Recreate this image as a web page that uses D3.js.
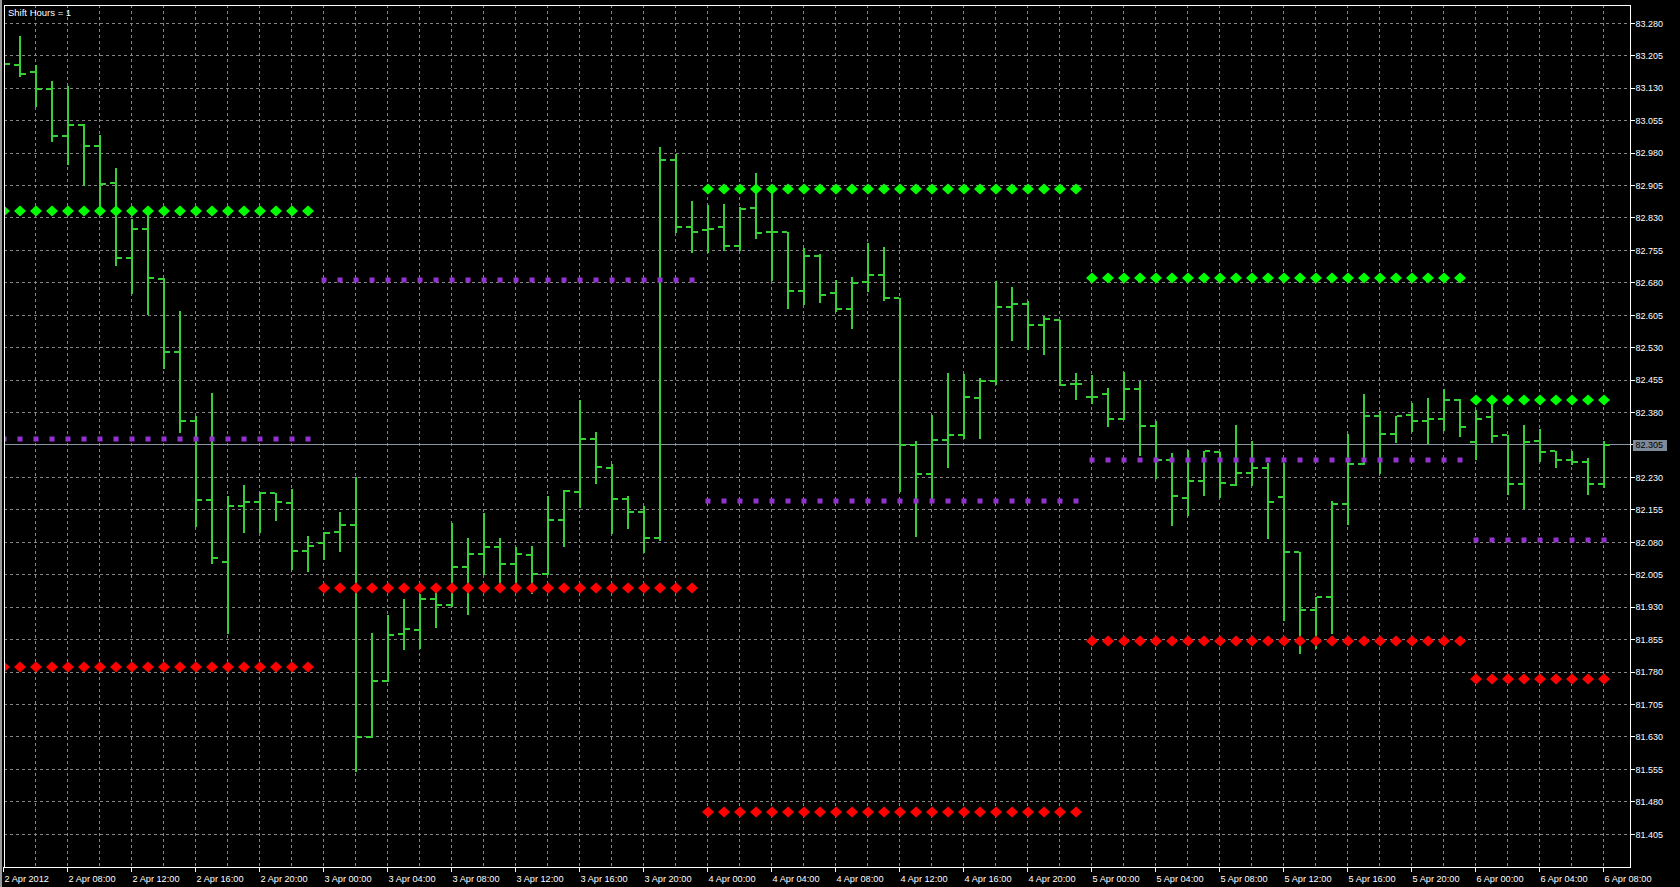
<!DOCTYPE html>
<html><head><meta charset="utf-8">
<script src="https://cdn.jsdelivr.net/npm/d3@7"></script>
<style>
html,body{margin:0;padding:0;background:#000;overflow:hidden}
svg{display:block}
text{font-family:"Liberation Sans",Arial,sans-serif;}
</style></head><body>
<svg id="chart" width="1680" height="887"></svg>
<script>
// ---------- DATA ----------
const barOpen = [83.190,83.183,83.167,83.129,83.020,83.044,82.996,82.911,82.738,82.805,
82.689,82.520,82.361,82.178,82.035,82.163,82.172,82.195,82.170,82.061,
82.078,82.103,82.120,81.629,81.759,81.867,81.878,81.950,81.934,82.022,
82.052,82.070,82.029,82.050,82.007,82.132,82.197,82.319,82.251,82.179,
82.149,82.091,82.965,82.809,82.801,82.809,82.766,82.852,82.797,82.798,
82.660,82.743,82.657,82.619,82.681,82.698,82.644,82.304,82.239,82.316,
82.329,82.413,82.452,82.625,82.632,82.582,82.595,82.446,82.415,82.423,
82.365,82.435,82.350,82.270,82.182,82.221,82.289,82.213,82.240,82.252,
82.184,82.057,81.924,81.953,82.169,82.261,82.371,82.331,82.374,82.360,
82.365,82.410,82.313,82.370,82.327,82.215,82.315,82.290,82.270,82.265,
82.215];
const barHigh = [83.200,83.251,83.183,83.146,83.136,83.048,83.021,82.945,82.828,82.841,
82.690,82.615,82.371,82.425,82.188,82.212,82.197,82.195,82.204,82.095,
82.103,82.149,82.232,81.871,81.911,81.948,81.960,81.968,82.125,82.090,
82.147,82.090,82.069,82.071,82.188,82.200,82.410,82.335,82.261,82.188,
82.164,82.995,82.977,82.869,82.859,82.862,82.855,82.934,82.894,82.798,
82.760,82.747,82.687,82.693,82.771,82.763,82.644,82.314,82.375,82.471,
82.468,82.459,82.683,82.671,82.638,82.604,82.595,82.471,82.466,82.437,
82.474,82.454,82.360,82.286,82.293,82.291,82.289,82.352,82.315,82.263,
82.263,82.057,81.953,82.175,82.331,82.424,82.383,82.371,82.401,82.414,
82.435,82.411,82.387,82.398,82.327,82.352,82.342,82.290,82.290,82.275,
82.315];
const barLow = [83.170,83.158,83.089,83.008,82.954,82.905,82.856,82.722,82.657,82.607,
82.482,82.336,82.117,82.032,81.871,82.103,82.103,82.132,82.019,82.013,
82.042,82.061,81.551,81.629,81.759,81.833,81.836,81.883,81.932,81.914,
82.007,81.984,81.984,81.963,82.007,82.071,82.162,82.216,82.102,82.113,
82.058,82.085,82.797,82.752,82.752,82.755,82.755,82.783,82.687,82.621,
82.632,82.636,82.615,82.575,82.662,82.641,82.198,82.095,82.177,82.254,
82.322,82.322,82.446,82.547,82.526,82.515,82.444,82.411,82.403,82.349,
82.365,82.281,82.229,82.119,82.143,82.190,82.185,82.213,82.212,82.090,
81.900,81.824,81.836,81.870,82.123,82.260,82.240,82.313,82.338,82.310,
82.340,82.325,82.273,82.311,82.192,82.159,82.269,82.254,82.260,82.192,
82.208];
const barClose = [83.186,83.163,83.129,83.020,83.044,82.996,82.908,82.738,82.805,82.691,
82.520,82.361,82.178,82.043,82.163,82.172,82.195,82.172,82.061,82.072,
82.101,82.120,81.629,81.759,81.865,81.879,81.950,81.934,82.022,82.054,
82.070,82.029,82.052,82.007,82.132,82.199,82.319,82.253,82.179,82.149,
82.091,82.965,82.809,82.798,82.805,82.766,82.850,82.796,82.798,82.660,
82.743,82.652,82.619,82.679,82.698,82.644,82.306,82.239,82.316,82.329,
82.415,82.452,82.625,82.632,82.582,82.597,82.444,82.446,82.417,82.365,
82.435,82.350,82.270,82.186,82.221,82.291,82.216,82.240,82.252,82.172,
82.057,81.924,81.953,82.169,82.261,82.371,82.331,82.371,82.360,82.365,
82.410,82.346,82.365,82.325,82.215,82.313,82.288,82.270,82.265,82.215,
82.305];

const xTickIndex = [0,4,8,12,16,20,24,28,32,36,40,44,48,52,56,60,64,68,72,76,80,84,88,92,96,100];
const xTickLabels = ["2 Apr 2012","2 Apr 08:00","2 Apr 12:00","2 Apr 16:00","2 Apr 20:00",
"3 Apr 00:00","3 Apr 04:00","3 Apr 08:00","3 Apr 12:00","3 Apr 16:00","3 Apr 20:00",
"4 Apr 00:00","4 Apr 04:00","4 Apr 08:00","4 Apr 12:00","4 Apr 16:00","4 Apr 20:00",
"5 Apr 00:00","5 Apr 04:00","5 Apr 08:00","5 Apr 12:00","5 Apr 16:00","5 Apr 20:00",
"6 Apr 00:00","6 Apr 04:00","6 Apr 08:00"];
const yTickValues = [83.280,83.205,83.130,83.055,82.980,82.905,82.830,82.755,82.680,82.605,
82.530,82.455,82.380,82.305,82.230,82.155,82.080,82.005,81.930,81.855,81.780,81.705,
81.630,81.555,81.480,81.405];
const yTickLabels = ["83.280","83.205","83.130","83.055","82.980","82.905","82.830","82.755",
"82.680","82.605","82.530","82.455","82.380","82.305","82.230","82.155","82.080","82.005",
"81.930","81.855","81.780","81.705","81.630","81.555","81.480","81.405"];

const daySegStart = [0,20,44,68,92];
const daySegEnd   = [19,43,67,91,100];
const dayHighLevel  = [82.847,null,82.898,82.691,82.410];
const dayPivotLevel = [82.319,82.686,82.175,82.270,82.086];
const dayLowLevel   = [81.792,81.975,81.457,81.852,81.763];

const currentPrice = 82.305;
const currentPriceLabel = "82.305";
const titleText = "Shift Hours = 1";

// ---------- LAYOUT ----------
const plot = {left:4, top:5, right:1630.5, bottom:867};
const x = d3.scaleLinear().domain([0,100]).range([4,1604]);
const y = d3.scaleLinear().domain([81.3292,83.3223]).range([867,5]);
const px = v => Math.floor(v) + 0.5;

const svg = d3.select("#chart");
svg.append("rect").attr("width",1680).attr("height",887).attr("fill","#000");
svg.append("rect").attr("x",0).attr("y",0).attr("width",2).attr("height",887).attr("fill","#9a9a9a");

svg.append("defs").append("clipPath").attr("id","plotClip")
  .append("rect").attr("x",plot.left+1).attr("y",plot.top+1)
  .attr("width",plot.right-plot.left-1.5).attr("height",plot.bottom-plot.top-1);

const gridColor = "#858585";
const grid = svg.append("g").attr("clip-path","url(#plotClip)")
  .attr("stroke",gridColor).attr("stroke-width",1).attr("stroke-dasharray","3,3")
  .attr("shape-rendering","crispEdges");
grid.selectAll("line.h").data(yTickValues).join("line").attr("class","h")
  .attr("x1",plot.left).attr("x2",plot.right)
  .attr("y1",d=>px(y(d))).attr("y2",d=>px(y(d)));
const vGrid = d3.range(2,101,2);
grid.selectAll("line.v").data(vGrid).join("line").attr("class","v")
  .attr("y1",plot.top).attr("y2",plot.bottom)
  .attr("x1",d=>Math.round(x(d))-0.5).attr("x2",d=>Math.round(x(d))-0.5);

// current price line
svg.append("line").attr("x1",plot.left).attr("x2",plot.right)
  .attr("y1",px(y(currentPrice))).attr("y2",px(y(currentPrice)))
  .attr("stroke","#8a96a4").attr("stroke-width",1).attr("shape-rendering","crispEdges");

// bars
const barColor = "#34d034";
const bars = svg.append("g").attr("clip-path","url(#plotClip)").attr("fill",barColor)
  .attr("shape-rendering","crispEdges");
const idx = d3.range(barOpen.length);
idx.forEach(i=>{
  const cx = Math.round(x(i));
  const yH = Math.round(y(barHigh[i])), yL = Math.round(y(barLow[i]));
  const yO = Math.round(y(barOpen[i])), yC = Math.round(y(barClose[i]));
  bars.append("rect").attr("x",cx-1).attr("y",yH).attr("width",2).attr("height",Math.max(2,yL-yH+1));
  bars.append("rect").attr("x",cx-6).attr("y",yO-1).attr("width",5).attr("height",2);
  bars.append("rect").attr("x",cx+1).attr("y",yC-1).attr("width",5).attr("height",2);
});

// indicator levels
const ind = svg.append("g").attr("clip-path","url(#plotClip)");
function diamondPath(cx,cy){
  return `M${cx},${cy-5.5}L${cx+6},${cy}L${cx},${cy+5.5}L${cx-6},${cy}Z`;
}
daySegStart.forEach((s,di)=>{
  const ks = d3.range(s, daySegEnd[di]+1);
  if (dayHighLevel[di] !== null) {
    ind.selectAll(null).data(ks).join("path")
      .attr("d",k=>diamondPath(Math.round(x(k)), Math.round(y(dayHighLevel[di]))))
      .attr("fill","#00ff00");
  }
  ind.selectAll(null).data(ks).join("path")
    .attr("d",k=>diamondPath(Math.round(x(k)), Math.round(y(dayLowLevel[di]))))
    .attr("fill","#ff0000");
  ind.selectAll(null).data(ks).join("rect")
    .attr("x",k=>Math.round(x(k))-2.5).attr("y",Math.round(y(dayPivotLevel[di]))-2.5)
    .attr("width",5).attr("height",5).attr("fill","#9632d2");
});

// plot border
svg.append("rect").attr("x",plot.left+0.5).attr("y",plot.top+0.5)
  .attr("width",plot.right-plot.left-0.5).attr("height",plot.bottom-plot.top)
  .attr("fill","none").attr("stroke","#fff").attr("stroke-width",1)
  .attr("shape-rendering","crispEdges");

// y axis (right)
const yAxisG = svg.append("g");
yAxisG.selectAll("line").data(yTickValues).join("line")
  .attr("x1",plot.right).attr("x2",plot.right+4)
  .attr("y1",d=>px(y(d))).attr("y2",d=>px(y(d)))
  .attr("stroke","#fff").attr("shape-rendering","crispEdges");
yAxisG.selectAll("text").data(yTickValues).join("text")
  .attr("x",plot.right+5).attr("y",d=>y(d)+3.3)
  .attr("fill","#fff").attr("font-size","9px")
  .text((d,i)=>yTickLabels[i]);

// current price label
const cpY = y(currentPrice);
svg.append("rect").attr("x",1633).attr("y",Math.round(cpY)-5).attr("width",34).attr("height",11)
  .attr("fill","#7d8a99");
svg.append("text").attr("x",plot.right+5).attr("y",cpY+3.3)
  .attr("fill","#000").attr("font-size","9px").text(currentPriceLabel);

// x axis (bottom)
const xAxisG = svg.append("g");
xAxisG.selectAll("line").data(xTickIndex).join("line")
  .attr("x1",d=>Math.round(x(d))-0.5).attr("x2",d=>Math.round(x(d))-0.5)
  .attr("y1",plot.bottom).attr("y2",plot.bottom+5)
  .attr("stroke","#fff").attr("shape-rendering","crispEdges");
xAxisG.selectAll("text").data(xTickIndex).join("text")
  .attr("x",d=>Math.round(x(d))+0.5).attr("y",882)
  .attr("fill","#fff").attr("font-size","9.2px")
  .text((d,i)=>xTickLabels[i]);

// title
svg.append("text").attr("x",8).attr("y",16).attr("fill","#fff")
  .attr("font-size","9.5px").text(titleText);
</script>
</body></html>
